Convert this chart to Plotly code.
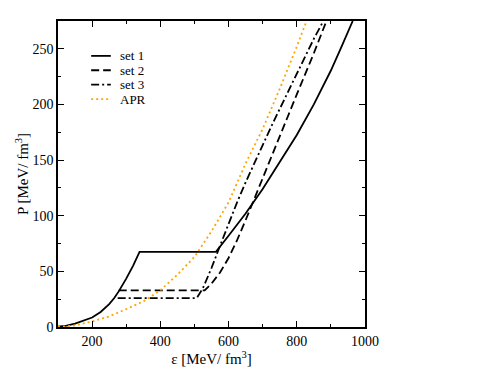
import plotly.graph_objects as go

# set 1 (solid)
set1_e = [100, 125, 150, 175, 200, 225, 250, 265, 278, 300, 320, 339, 563, 600, 650, 700, 750, 800, 850, 900, 930, 964]
set1_p = [0.3, 1.2, 3.0, 5.5, 8.5, 13.5, 20.5, 26.0, 32.0, 43.5, 55.0, 67.5, 67.5, 82, 102, 124, 148, 172.5, 200, 230.5, 251, 275]

# set 2 (dashed)
set2_e = [278, 530, 550, 575, 600, 625, 650, 700, 750, 800, 850, 887]
set2_p = [33, 33, 39, 49, 62, 78, 96, 134, 171, 209, 246, 275]

# set 3 (dash-dot)
set3_e = [275, 507, 525, 550, 575, 600, 625, 650, 675, 700, 725, 750, 775, 800, 825, 850, 878]
set3_p = [26, 26, 35, 53, 73, 93, 112, 130, 147, 163, 180, 196, 212, 228, 243, 259, 275]

# APR (orange dotted)
apr_e = [100, 150, 200, 250, 300, 350, 400, 450, 500, 550, 600, 650, 700, 750, 800, 830]
apr_p = [0, 1.5, 5, 9.5, 16, 23, 33, 47, 63, 86, 112, 147, 178, 214, 252, 276]

names = ["set 1", "set 2", "set 3", "APR"]
colors = ["black", "black", "black", "#FFA500"]
dashes = ["solid", "8px,4px", "8px,3px,2px,3px", "2px,3px"]

FONT = "Liberation Serif"

fig = go.Figure()
for (xs, ys), name, col, dash in zip([(set1_e, set1_p), (set2_e, set2_p), (set3_e, set3_p), (apr_e, apr_p)],
                                     names, colors, dashes):
    fig.add_trace(go.Scatter(x=xs, y=ys, mode="lines", name=name, showlegend=False,
                             line=dict(color=col, width=1.8, dash=dash)))

# hand-drawn legend (compact rows like the original)
row_y = [0.886, 0.839, 0.792, 0.745]
for name, col, dash, yy in zip(names, colors, dashes, row_y):
    fig.add_shape(type="line", xref="paper", yref="paper", x0=0.108, x1=0.172, y0=yy, y1=yy,
                  line=dict(color=col, width=1.8, dash=dash))
    fig.add_annotation(text=name, xref="paper", yref="paper", x=0.196, y=yy, xanchor="left",
                       yanchor="middle", showarrow=False,
                       font=dict(family=FONT, size=13, color="black"))

axis_common = dict(
    showline=True, linecolor="black", linewidth=1.5, mirror="allticks",
    ticks="inside", ticklen=6, tickwidth=1, tickcolor="black",
    showgrid=False, zeroline=False,
    tickfont=dict(family=FONT, size=14, color="black"),
)

fig.update_xaxes(range=[100, 1000], tick0=0, dtick=200,
                 minor=dict(ticks="inside", ticklen=3, dtick=100, tickcolor="black"),
                 title=dict(text="ε [MeV/ fm<sup>3</sup>]", font=dict(family=FONT, size=15, color="black"),
                            standoff=2),
                 **axis_common)
fig.update_yaxes(range=[0, 275], tick0=0, dtick=50,
                 minor=dict(ticks="inside", ticklen=3, dtick=25, tickcolor="black"),
                 title=dict(text="P [MeV/ fm<sup>3</sup>]", font=dict(family=FONT, size=15, color="black"),
                            standoff=0),
                 **axis_common)

# page body adds an 8px offset, so margins are shifted to compensate
fig.update_layout(
    width=498, height=385,
    margin=dict(l=50, r=141, t=11, b=66),
    paper_bgcolor="white", plot_bgcolor="white",
    font=dict(family=FONT, size=14, color="black"),
    showlegend=False,
)

fig.write_html("out.html")
